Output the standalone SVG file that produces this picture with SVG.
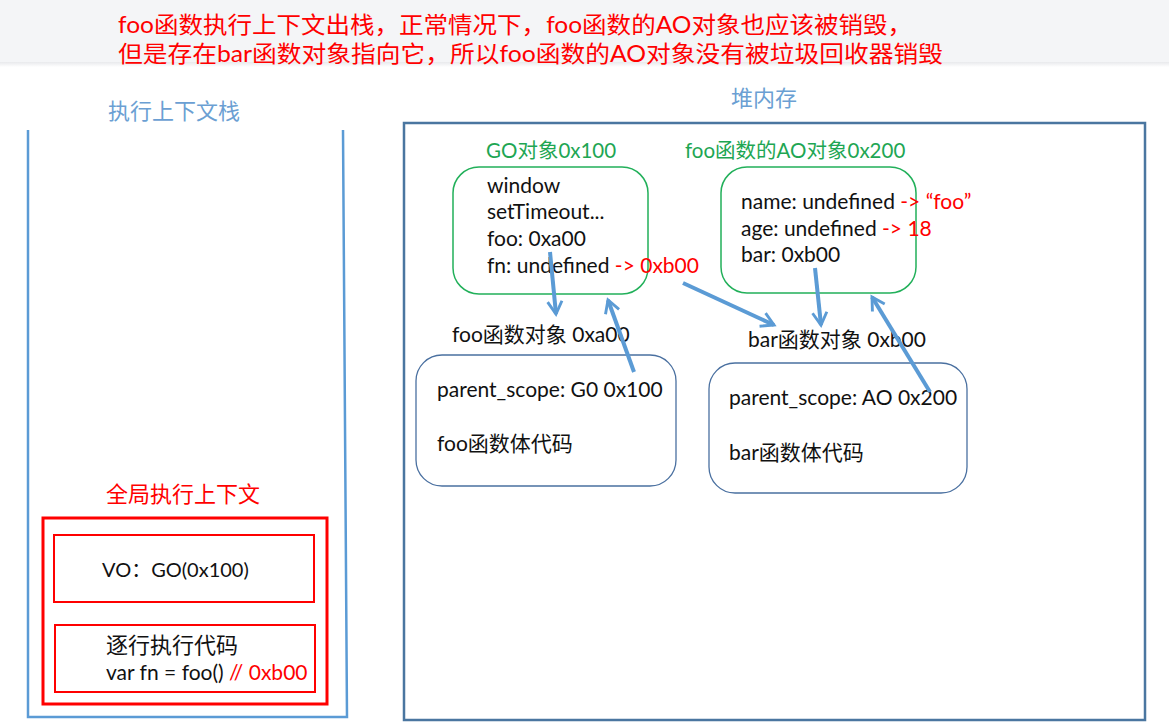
<svg xmlns="http://www.w3.org/2000/svg" width="1169" height="728" viewBox="0 0 1169 728">
<defs>
<style>
text{font-family:Lato,"Noto Sans CJK SC",sans-serif;}
.red{fill:#ff0000;}
.blk{fill:#111;font-size:21px;}
.green{fill:#1ea653;font-size:20.5px;}
.title{fill:#6b9fd3;font-size:22px;}
.gbox{fill:none;stroke:#22b05a;stroke-width:1.5;}
.bbox{fill:none;stroke:#4a70a0;stroke-width:1.3;}
.rbox{fill:none;stroke:#ff0000;}
.arr{stroke:#5b9bd5;stroke-width:4;fill:none;marker-end:url(#ah);}
</style>
<marker id="ah" viewBox="0 0 10 10" refX="8" refY="5" markerWidth="4.5" markerHeight="4.5" orient="auto" markerUnits="strokeWidth">
<path d="M1,1 L8,5 L1,9" fill="none" stroke="#5b9bd5" stroke-width="1.6"/>
</marker>
<linearGradient id="sh" x1="0" y1="0" x2="0" y2="1">
<stop offset="0" stop-color="#e8e9ec"/><stop offset="1" stop-color="#ffffff"/>
</linearGradient>
</defs>
<rect width="1169" height="728" fill="#ffffff"/>
<rect width="1169" height="62" fill="#f4f5f7"/>
<rect y="62" width="1169" height="5" fill="url(#sh)"/>

<g id="header">
<text x="118" y="33" class="red" font-size="23" textLength="794" lengthAdjust="spacingAndGlyphs">foo函数执行上下文出栈，正常情况下，foo函数的AO对象也应该被销毁，</text>
<text x="118" y="62" class="red" font-size="23" textLength="825" lengthAdjust="spacingAndGlyphs">但是存在bar函数对象指向它，所以foo函数的AO对象没有被垃圾回收器销毁</text>
</g>

<g id="stack">
<text x="108" y="119" class="title">执行上下文栈</text>
<path d="M28,130 L28,717 L347,717 L343,130" fill="none" stroke="#5b9bd5" stroke-width="2.5"/>
</g>

<g id="global-context">
<text x="106" y="502" class="red" font-size="22">全局执行上下文</text>
<rect x="43" y="518" width="284" height="186" class="rbox" stroke-width="3"/>
</g>
<g id="vo">
<rect x="54" y="535" width="260" height="67" class="rbox" stroke-width="2"/>
<text x="102" y="577" fill="#111" font-size="20">VO：GO(0x100)</text>
</g>
<g id="code">
<rect x="55" y="625" width="260" height="67" class="rbox" stroke-width="2"/>
<text x="106" y="653" fill="#111" font-size="22">逐行执行代码</text>
<text x="106" y="680" class="blk">var fn = foo() <tspan class="red">// 0xb00</tspan></text>
</g>

<g id="heap">
<text x="731" y="106" class="title">堆内存</text>
<rect x="404" y="123" width="741" height="597" fill="none" stroke="#4a76a0" stroke-width="2.5"/>
</g>

<g id="go">
<text x="486" y="158" class="green">GO对象0x100</text>
<rect x="453" y="167" width="195" height="127" rx="26" class="gbox"/>
<text x="487" y="193" class="blk">window</text>
<text x="487" y="219" class="blk">setTimeout...</text>
<text x="487" y="246" class="blk">foo: 0xa00</text>
<text x="487" y="273" class="blk">fn: undefined <tspan class="red">-&gt; 0xb00</tspan></text>
</g>

<g id="ao">
<text x="685" y="158" class="green">foo函数的AO对象0x200</text>
<rect x="721" y="167" width="195" height="126" rx="26" class="gbox"/>
<text x="741" y="209" class="blk">name: undefined <tspan class="red">-&gt; “foo”</tspan></text>
<text x="741" y="236" class="blk">age: undefined <tspan class="red">-&gt; 18</tspan></text>
<text x="741" y="262" class="blk">bar: 0xb00</text>
</g>

<g id="foo-fn">
<text x="452" y="342" class="blk">foo函数对象 0xa00</text>
<rect x="416" y="355" width="260" height="131" rx="26" class="bbox"/>
<text x="437" y="397" class="blk">parent_scope: G0 0x100</text>
<text x="437" y="451" class="blk">foo函数体代码</text>
</g>

<g id="bar-fn">
<text x="748" y="347" class="blk">bar函数对象 0xb00</text>
<rect x="709" y="363" width="258" height="130" rx="26" class="bbox"/>
<text x="729" y="405" class="blk">parent_scope: AO 0x200</text>
<text x="729" y="460" class="blk">bar函数体代码</text>
</g>

<g id="connectors">
<line x1="550" y1="252" x2="556" y2="314" class="arr"/>
<line x1="634" y1="372" x2="608" y2="300" class="arr"/>
<line x1="683" y1="283" x2="774" y2="325" class="arr"/>
<line x1="815" y1="268" x2="821" y2="325" class="arr"/>
<line x1="930" y1="392" x2="872" y2="297" class="arr"/>
</g>
</svg>
